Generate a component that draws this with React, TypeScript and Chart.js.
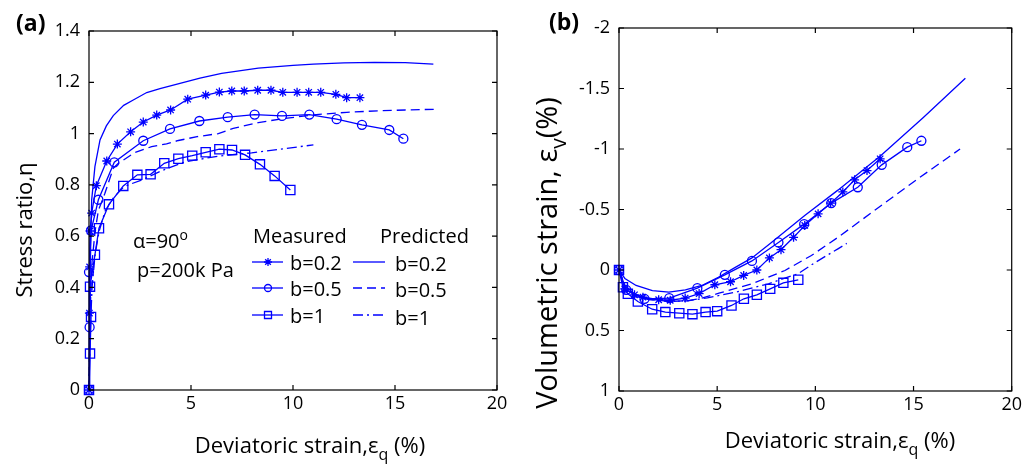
import React, { useEffect, useRef } from 'react';
import { Chart, registerables } from 'chart.js';

Chart.register(...registerables);

// ---------- Panel (a): stress ratio vs deviatoric strain ----------
const xTicksA = [0, 5, 10, 15, 20];
const yTicksA = [0, 0.2, 0.4, 0.6, 0.8, 1, 1.2, 1.4];

const measA02X = [0, 0.02, 0.03, 0.05, 0.13, 0.36, 0.87, 1.39, 2.04, 2.66, 3.32, 4.0, 4.84, 5.72, 6.39, 7.0, 7.61, 8.27, 8.92, 9.5, 10.2, 10.77, 11.36, 12.1, 12.63, 13.28];
const measA02Y = [0, 0.3, 0.48, 0.62, 0.69, 0.797, 0.893, 0.959, 1.007, 1.045, 1.072, 1.092, 1.134, 1.15, 1.162, 1.166, 1.166, 1.169, 1.169, 1.161, 1.161, 1.161, 1.161, 1.153, 1.14, 1.14];

const measA05X = [0, 0.03, 0.0, 0.1, 0.46, 1.24, 2.66, 3.97, 5.41, 6.8, 8.12, 9.46, 10.8, 12.14, 13.38, 14.72, 15.41];
const measA05Y = [0, 0.245, 0.46, 0.622, 0.742, 0.888, 0.972, 1.018, 1.049, 1.064, 1.074, 1.069, 1.074, 1.056, 1.034, 1.014, 0.98];

const measA1X = [0, 0.05, 0.1, 0.05, 0.29, 0.49, 0.98, 1.68, 2.37, 3.02, 3.69, 4.38, 5.06, 5.72, 6.39, 7.01, 7.65, 8.38, 9.1, 9.87];
const measA1Y = [0, 0.142, 0.285, 0.403, 0.527, 0.631, 0.724, 0.796, 0.839, 0.841, 0.884, 0.902, 0.914, 0.927, 0.939, 0.936, 0.917, 0.88, 0.835, 0.78];

const predA02X = [0, 0.03, 0.08, 0.13, 0.29, 0.54, 0.85, 1.19, 1.7, 2.17, 2.83, 3.48, 4.46, 5.44, 6.5, 8.3, 10, 11, 12.5, 14, 15.5, 16.88];
const predA02Y = [0, 0.3, 0.55, 0.74, 0.871, 0.975, 1.03, 1.07, 1.11, 1.131, 1.16, 1.175, 1.196, 1.216, 1.235, 1.255, 1.266, 1.271, 1.276, 1.278, 1.277, 1.271];

const predA05X = [0, 0.05, 0.15, 0.3, 0.46, 0.78, 1.19, 1.44, 2.25, 3.07, 3.8, 4.38, 5.3, 6.34, 7.07, 8.3, 9.5, 11, 12.63, 14.26, 15.5, 17.1];
const predA05Y = [0, 0.3, 0.5, 0.62, 0.7, 0.767, 0.865, 0.884, 0.926, 0.949, 0.96, 0.973, 0.988, 1.0, 1.02, 1.043, 1.058, 1.073, 1.083, 1.089, 1.092, 1.095];

const predA1X = [0, 0.05, 0.15, 0.3, 0.5, 0.8, 1.2, 1.68, 1.93, 2.58, 3.56, 4.71, 6.34, 7.97, 9.28, 11.0];
const predA1Y = [0, 0.2, 0.4, 0.53, 0.62, 0.7, 0.75, 0.79, 0.8, 0.819, 0.855, 0.89, 0.912, 0.925, 0.938, 0.956];

// ---------- Panel (b): volumetric strain vs deviatoric strain ----------
const xTicksB = [0, 5, 10, 15, 20];
const yTicksB = [-2, -1.5, -1, -0.5, 0, 0.5, 1];

const measB02X = [0, 0.29, 0.79, 1.22, 2.02, 2.61, 3.37, 4.08, 4.88, 5.68, 6.35, 7.02, 7.66, 8.25, 8.89, 9.46, 10.14, 10.78, 11.4, 12.0, 12.63, 13.3];
const measB02Y = [0, 0.156, 0.205, 0.225, 0.246, 0.25, 0.232, 0.195, 0.122, 0.097, 0.045, 0.0, -0.1, -0.168, -0.27, -0.368, -0.464, -0.552, -0.645, -0.745, -0.822, -0.919];

const measB05X = [0, 0.37, 1.3, 2.56, 3.99, 5.39, 6.77, 8.12, 9.43, 10.81, 12.16, 13.38, 14.68, 15.4];
const measB05Y = [0, 0.164, 0.238, 0.233, 0.15, 0.04, -0.075, -0.228, -0.379, -0.553, -0.684, -0.869, -1.015, -1.068];

const measB1X = [0, 0.2, 0.45, 0.96, 1.69, 2.36, 3.07, 3.74, 4.41, 5.0, 5.73, 6.36, 7.02, 7.7, 8.37, 9.13];
const measB1Y = [0, 0.142, 0.197, 0.26, 0.324, 0.348, 0.357, 0.365, 0.348, 0.34, 0.293, 0.238, 0.205, 0.156, 0.106, 0.081];

const predB02X = [0, 0.3, 0.87, 1.7, 2.54, 3.38, 4.22, 5.06, 5.9, 6.77, 7.78, 9.46, 11.15, 13.34, 15.5, 17.64];
const predB02Y = [0, 0.07, 0.128, 0.17, 0.183, 0.164, 0.128, 0.06, -0.02, -0.1, -0.23, -0.45, -0.66, -0.946, -1.26, -1.585];

const predB05X = [0, 0.3, 0.8, 1.5, 2.5, 3.4, 4.08, 5.09, 6.77, 8.45, 9.8, 11.15, 12.83, 15.19, 17.37];
const predB05Y = [0, 0.13, 0.2, 0.24, 0.26, 0.255, 0.238, 0.192, 0.114, 0.004, -0.12, -0.27, -0.47, -0.75, -1.0];

const predB1X = [0, 0.3, 0.8, 1.5, 2.5, 3.5, 4.5, 5.93, 7.61, 9.13, 9.97, 11.15, 11.6];
const predB1Y = [0, 0.13, 0.2, 0.245, 0.26, 0.255, 0.23, 0.183, 0.114, 0.03, -0.06, -0.175, -0.22];

// ---------- text ----------
const legendHeadMeasured = 'Measured';
const legendHeadPredicted = 'Predicted';
const seriesLabels = ['b=0.2', 'b=0.5', 'b=1'];

const BLUE = '#0000ff';
const FONT = '"Open Sans", Lato, sans-serif';
const DASH = [9, 5];
const DASHDOT = [10, 4, 2, 4];
const LW = 1.3;

function pts(xs: number[], ys: number[]) {
  return xs.map((x, i) => ({ x, y: ys[i] }));
}

function measured(label: string, xs: number[], ys: number[], style: string, r: number) {
  return {
    label,
    data: pts(xs, ys),
    borderColor: BLUE,
    backgroundColor: 'rgba(0,0,0,0)',
    borderWidth: LW,
    pointStyle: style,
    pointRadius: r,
    pointBorderColor: BLUE,
    pointBackgroundColor: 'rgba(0,0,0,0)',
    pointBorderWidth: LW,
    tension: 0,
    clip: false,
  };
}

function predicted(label: string, xs: number[], ys: number[], dash: number[]) {
  return {
    label,
    data: pts(xs, ys),
    borderColor: BLUE,
    backgroundColor: 'rgba(0,0,0,0)',
    borderWidth: LW,
    borderDash: dash,
    pointRadius: 0,
    tension: 0,
    clip: false,
  };
}

type Part = { t: string; sub?: boolean; sup?: boolean };

function richWidth(ctx: CanvasRenderingContext2D, parts: Part[], size: number) {
  let w = 0;
  for (const p of parts) {
    ctx.font = `${p.sub || p.sup ? Math.round(size * 0.72) : size}px ${FONT}`;
    w += ctx.measureText(p.t).width;
  }
  return w;
}

function drawRich(ctx: CanvasRenderingContext2D, parts: Part[], x: number, y: number, size: number, align: 'left' | 'center') {
  const total = richWidth(ctx, parts, size);
  let cx = align === 'center' ? x - total / 2 : x;
  ctx.textAlign = 'left';
  ctx.textBaseline = 'alphabetic';
  ctx.fillStyle = '#000';
  for (const p of parts) {
    const s = p.sub || p.sup ? Math.round(size * 0.72) : size;
    ctx.font = `${s}px ${FONT}`;
    const dy = p.sub ? size * 0.3 : p.sup ? -size * 0.42 : 0;
    ctx.fillText(p.t, cx, y + dy);
    cx += ctx.measureText(p.t).width;
  }
}

function drawMarker(ctx: CanvasRenderingContext2D, style: string, x: number, y: number, r: number) {
  ctx.beginPath();
  if (style === 'circle') {
    ctx.arc(x, y, r, 0, Math.PI * 2);
  } else if (style === 'rect') {
    ctx.rect(x - r, y - r, 2 * r, 2 * r);
  } else if (style === 'star') {
    for (let k = 0; k < 4; k++) {
      const a = (k * Math.PI) / 4;
      ctx.moveTo(x - Math.cos(a) * r, y - Math.sin(a) * r);
      ctx.lineTo(x + Math.cos(a) * r, y + Math.sin(a) * r);
    }
  }
  ctx.stroke();
}

function makeOverlay(extras: (ctx: CanvasRenderingContext2D, chart: any) => void) {
  return {
    id: 'overlay',
    afterDraw(chart: any) {
      const { ctx, chartArea: a, scales } = chart;
      ctx.save();
      ctx.strokeStyle = '#000';
      ctx.lineWidth = 1.2;
      ctx.setLineDash([]);
      ctx.strokeRect(a.left, a.top, a.right - a.left, a.bottom - a.top);
      const TL = 5;
      ctx.beginPath();
      scales.x.ticks.forEach((t: any) => {
        const px = scales.x.getPixelForValue(t.value);
        ctx.moveTo(px, a.bottom);
        ctx.lineTo(px, a.bottom - TL);
        ctx.moveTo(px, a.top);
        ctx.lineTo(px, a.top + TL);
      });
      scales.y.ticks.forEach((t: any) => {
        const py = scales.y.getPixelForValue(t.value);
        ctx.moveTo(a.left, py);
        ctx.lineTo(a.left + TL, py);
        ctx.moveTo(a.right, py);
        ctx.lineTo(a.right - TL, py);
      });
      ctx.stroke();
      extras(ctx, chart);
      ctx.restore();
    },
  };
}

function scaleOpts(min: number, max: number, ticks: number[], isY: boolean, fixed: number, padding: number, reverse = false) {
  return {
    type: 'linear',
    min,
    max,
    reverse,
    grid: { display: false, drawTicks: false, tickLength: 0 },
    border: { display: false },
    afterBuildTicks: (s: any) => {
      s.ticks = ticks.map((v) => ({ value: v }));
    },
    afterFit: (s: any) => {
      if (isY) s.width = fixed;
      else s.height = fixed;
    },
    ticks: {
      color: '#000',
      font: { family: FONT, size: 18 },
      padding,
      maxRotation: 0,
      autoSkip: false,
      callback: (v: any) => String(v),
    },
  };
}

function buildA(): any {
  const overlay = makeOverlay((ctx) => {
    // panel label
    ctx.fillStyle = '#000';
    ctx.font = `bold 23px ${FONT}`;
    ctx.textAlign = 'left';
    ctx.textBaseline = 'alphabetic';
    ctx.fillText('(a)', 16, 31);
    // axis titles
    drawRich(ctx, [{ t: 'Deviatoric strain,ε' }, { t: 'q', sub: true }, { t: ' (%)' }], 310, 453, 22, 'center');
    ctx.save();
    ctx.translate(32, 230);
    ctx.rotate(-Math.PI / 2);
    drawRich(ctx, [{ t: 'Stress ratio,η' }], 0, 0, 22, 'center');
    ctx.restore();
    // annotations
    drawRich(ctx, [{ t: 'α=90' }, { t: 'o', sup: true }], 133, 248, 20, 'left');
    drawRich(ctx, [{ t: 'p=200k Pa' }], 137, 277, 20, 'left');
    // legend
    drawRich(ctx, [{ t: legendHeadMeasured }], 253, 243, 20, 'left');
    drawRich(ctx, [{ t: legendHeadPredicted }], 380, 243, 20, 'left');
    const rowsY = [262, 288, 315];
    const styles = ['star', 'circle', 'rect'];
    const mr = [4, 3.5, 3.5];
    const dashes = [[], DASH, DASHDOT];
    rowsY.forEach((y, i) => {
      ctx.strokeStyle = BLUE;
      ctx.lineWidth = LW;
      ctx.setLineDash([]);
      ctx.beginPath();
      ctx.moveTo(252, y);
      ctx.lineTo(283, y);
      ctx.stroke();
      drawMarker(ctx, styles[i], 268, y, mr[i]);
      ctx.setLineDash(dashes[i]);
      ctx.beginPath();
      ctx.moveTo(353, y);
      ctx.lineTo(385, y);
      ctx.stroke();
      ctx.setLineDash([]);
      drawRich(ctx, [{ t: seriesLabels[i] }], 290, y + 8, 20, 'left');
      drawRich(ctx, [{ t: seriesLabels[i] }], 395, y + 9 + (i === 2 ? 1 : 0), 20, 'left');
    });
  });
  return {
    type: 'line',
    data: {
      datasets: [
        predicted('Predicted b=0.2', predA02X, predA02Y, []),
        predicted('Predicted b=0.5', predA05X, predA05Y, DASH),
        predicted('Predicted b=1', predA1X, predA1Y, DASHDOT),
        measured('Measured b=0.2', measA02X, measA02Y, 'star', 4.5),
        measured('Measured b=0.5', measA05X, measA05Y, 'circle', 4.5),
        measured('Measured b=1', measA1X, measA1Y, 'rect', 6.5),
      ],
    },
    options: {
      responsive: false,
      animation: false,
      devicePixelRatio: 1,
      layout: { padding: { left: 0, right: 15, top: 31, bottom: 0 } },
      plugins: { legend: { display: false }, tooltip: { enabled: false }, title: { display: false } },
      scales: {
        x: scaleOpts(0, 20, xTicksA, false, 75, 3),
        y: scaleOpts(0, 1.4, yTicksA, true, 89, 9),
      },
    },
    plugins: [overlay],
  };
}

function buildB(): any {
  const overlay = makeOverlay((ctx) => {
    ctx.fillStyle = '#000';
    ctx.font = `bold 23px ${FONT}`;
    ctx.textAlign = 'left';
    ctx.textBaseline = 'alphabetic';
    ctx.fillText('(b)', 37, 30);
    drawRich(ctx, [{ t: 'Deviatoric strain,ε' }, { t: 'q', sub: true }, { t: ' (%)' }], 328, 448, 22, 'center');
    ctx.save();
    ctx.translate(45, 253);
    ctx.rotate(-Math.PI / 2);
    drawRich(ctx, [{ t: 'Volumetric strain, ε' }, { t: 'v', sub: true }, { t: '(%)' }], 0, 0, 29, 'center');
    ctx.restore();
  });
  return {
    type: 'line',
    data: {
      datasets: [
        predicted('Predicted b=0.2', predB02X, predB02Y, []),
        predicted('Predicted b=0.5', predB05X, predB05Y, DASH),
        predicted('Predicted b=1', predB1X, predB1Y, DASHDOT),
        measured('Measured b=0.2', measB02X, measB02Y, 'star', 4.5),
        measured('Measured b=0.5', measB05X, measB05Y, 'circle', 4.5),
        measured('Measured b=1', measB1X, measB1Y, 'rect', 6.5),
      ],
    },
    options: {
      responsive: false,
      animation: false,
      devicePixelRatio: 1,
      layout: { padding: { left: 0, right: 10, top: 28, bottom: 0 } },
      plugins: { legend: { display: false }, tooltip: { enabled: false }, title: { display: false } },
      scales: {
        x: scaleOpts(0, 20, xTicksB, false, 74, 3),
        y: scaleOpts(-2, 1, yTicksB, true, 107, 9, true),
      },
    },
    plugins: [overlay],
  };
}

function ChartCanvas({ build, left, width }: { build: () => any; left: number; width: number }) {
  const ref = useRef<HTMLCanvasElement | null>(null);
  useEffect(() => {
    if (!ref.current) return;
    const chart = new Chart(ref.current, build());
    return () => chart.destroy();
  }, [build]);
  return (
    <canvas
      ref={ref}
      width={width}
      height={465}
      style={{ position: 'absolute', left, top: 0, width, height: 465 }}
    />
  );
}

export default function App() {
  return (
    <div style={{ position: 'absolute', left: 0, top: 0, width: 1025, height: 465, background: '#fff', overflow: 'hidden' }}>
      <ChartCanvas build={buildA} left={0} width={512} />
      <ChartCanvas build={buildB} left={512} width={513} />
    </div>
  );
}
